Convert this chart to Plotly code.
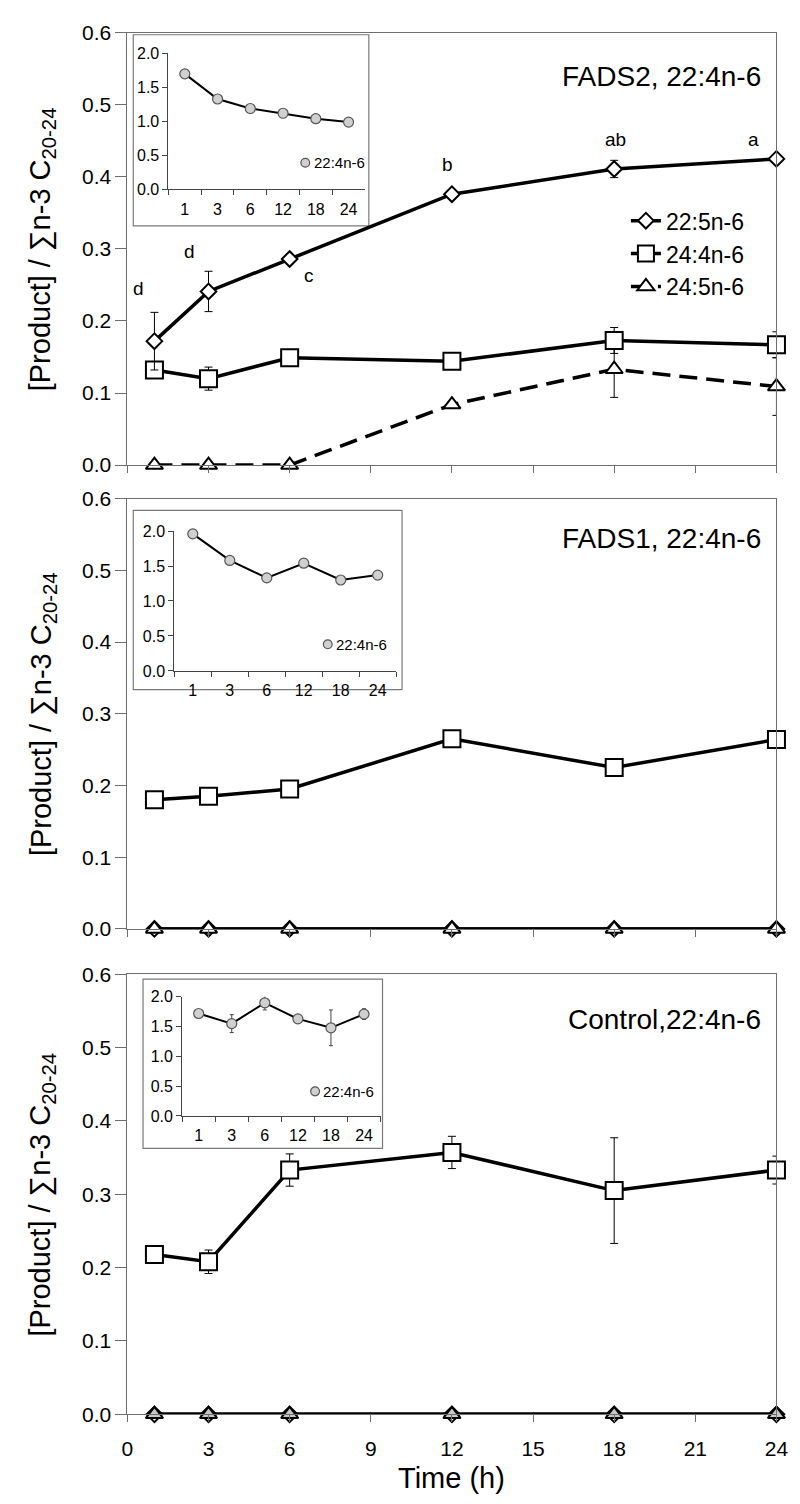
import plotly.graph_objects as go

# ---------------- data ----------------
hours = [1, 3, 6, 12, 18, 24]
inset_cats = ["1", "3", "6", "12", "18", "24"]

# FADS2 panel
fads2_225 = [0.172, 0.241, 0.286, 0.376, 0.411, 0.425]
fads2_225_err = [0.040, 0.028, 0.004, 0.004, 0.012, 0.004]
fads2_244 = [0.132, 0.120, 0.149, 0.144, 0.173, 0.167]
fads2_244_err = [0.004, 0.016, 0.004, 0.004, 0.018, 0.018]
fads2_245 = [0.0, 0.0, 0.0, 0.084, 0.133, 0.109]
fads2_245_err = [0.0, 0.0, 0.0, 0.004, 0.039, 0.040]
fads2_letters = ["d", "d", "c", "b", "ab", "a"]
letter_x = [0.4, 2.3, 6.7, 11.85, 18.05, 23.15]
letter_y = [0.245, 0.297, 0.263, 0.417, 0.452, 0.452]

# FADS1 panel
fads1_225 = [0.0, 0.0, 0.0, 0.0, 0.0, 0.0]
fads1_244 = [0.180, 0.185, 0.195, 0.265, 0.225, 0.264]
fads1_244_err = [0.004, 0.004, 0.004, 0.004, 0.004, 0.004]
fads1_245 = [0.0, 0.0, 0.0, 0.0, 0.0, 0.0]

# Control panel
ctrl_225 = [0.0, 0.0, 0.0, 0.0, 0.0, 0.0]
ctrl_244 = [0.218, 0.208, 0.333, 0.357, 0.305, 0.333]
ctrl_244_err = [0.004, 0.016, 0.022, 0.022, 0.072, 0.019]
ctrl_245 = [0.0, 0.0, 0.0, 0.0, 0.0, 0.0]

# insets: substrate 22:4n-6
inset_fads2 = [1.70, 1.33, 1.19, 1.12, 1.04, 0.99]
inset_fads2_err = [0.01, 0.02, 0.01, 0.01, 0.01, 0.01]
inset_fads1 = [1.96, 1.58, 1.33, 1.54, 1.30, 1.37]
inset_fads1_err = [0.01, 0.01, 0.06, 0.01, 0.01, 0.01]
inset_ctrl = [1.72, 1.55, 1.90, 1.63, 1.48, 1.71]
inset_ctrl_err = [0.03, 0.15, 0.12, 0.03, 0.30, 0.09]

panel_titles = ["FADS2, 22:4n-6", "FADS1, 22:4n-6", "Control,22:4n-6"]
x_ticks = [0, 3, 6, 9, 12, 15, 18, 21, 24]

# ---------------- layout helpers ----------------
W, H = 800, 1504
FONT = "Liberation Sans Narrow, Arial Narrow, Liberation Sans, Arial, sans-serif"
ARIAL = "Liberation Sans, Arial, sans-serif"


def xd(px):
    return px / W


def yd(py):
    return 1 - py / H


main_x = [xd(116), xd(780)]
panel_px = [(13, 452), (486, 923), (969, 1416)]          # (y of 0.6, y of 0.0)
inset_px = [  # (x0, x1, y_of_2.0, y_of_0.0)
    (158, 359, 34, 172),
    (164, 391, 519, 661),
    (172, 375, 992, 1113),
]
box_px = [(122, 15, 363, 209), (122, 498, 397, 680), (132, 974, 377, 1146)]
dot_px = [(298, 145), (321, 634), (308, 1088)]      # inset legend dot centres

fig = go.Figure()

LW = 3.5
diamond = dict(symbol="diamond", size=12, color="white", line=dict(color="black", width=2))
square = dict(symbol="square", size=17, color="white", line=dict(color="black", width=2))
tri_white = dict(symbol="triangle-up", size=15, color="white", line=dict(color="black", width=2))
tri_gray = dict(symbol="triangle-up", size=15, color="#c8c8c8", line=dict(color="black", width=2))


def eb(arr):
    return dict(type="data", array=arr, color="black", thickness=1, width=4)


# panel 1 (FADS2)
fig.add_trace(go.Scatter(x=hours, y=fads2_245, error_y=eb(fads2_245_err), mode="lines+markers",
                         name="24:5n-6", line=dict(color="black", width=LW, dash="18px,9px"),
                         marker=tri_white, xaxis="x", yaxis="y", cliponaxis=False, legendrank=3))
fig.add_trace(go.Scatter(x=hours, y=fads2_244, error_y=eb(fads2_244_err), mode="lines+markers",
                         name="24:4n-6", line=dict(color="black", width=LW),
                         marker=square, xaxis="x", yaxis="y", cliponaxis=False, legendrank=2))
fig.add_trace(go.Scatter(x=hours, y=fads2_225, error_y=eb(fads2_225_err), mode="lines+markers",
                         name="22:5n-6", line=dict(color="black", width=LW),
                         marker=diamond, xaxis="x", yaxis="y", cliponaxis=False, legendrank=1))

# panel 2 (FADS1)
fig.add_trace(go.Scatter(x=hours, y=fads1_244, error_y=eb(fads1_244_err), mode="lines+markers",
                         line=dict(color="black", width=LW), marker=square, showlegend=False,
                         xaxis="x2", yaxis="y2", cliponaxis=False))
fig.add_trace(go.Scatter(x=hours, y=fads1_225, mode="lines+markers",
                         line=dict(color="black", width=LW), marker=diamond, showlegend=False,
                         xaxis="x2", yaxis="y2", cliponaxis=False))
fig.add_trace(go.Scatter(x=hours, y=fads1_245, mode="lines+markers",
                         line=dict(color="black", width=LW), marker=tri_white, showlegend=False,
                         xaxis="x2", yaxis="y2", cliponaxis=False))

# panel 3 (Control)
fig.add_trace(go.Scatter(x=hours, y=ctrl_244, error_y=eb(ctrl_244_err), mode="lines+markers",
                         line=dict(color="black", width=LW), marker=square, showlegend=False,
                         xaxis="x3", yaxis="y3", cliponaxis=False))
fig.add_trace(go.Scatter(x=hours, y=ctrl_225, mode="lines+markers",
                         line=dict(color="black", width=LW), marker=diamond, showlegend=False,
                         xaxis="x3", yaxis="y3", cliponaxis=False))
fig.add_trace(go.Scatter(x=hours, y=ctrl_245, mode="lines+markers",
                         line=dict(color="black", width=LW), marker=tri_gray, showlegend=False,
                         xaxis="x3", yaxis="y3", cliponaxis=False))

# insets
inset_data = [(inset_fads2, inset_fads2_err), (inset_fads1, inset_fads1_err), (inset_ctrl, inset_ctrl_err)]
for i, (vals, errs) in enumerate(inset_data):
    ax = str(i + 4)
    fig.add_trace(go.Scatter(x=inset_cats, y=vals,
                             error_y=dict(type="data", array=errs, color="#444", thickness=1, width=2),
                             mode="lines+markers", line=dict(color="black", width=2),
                             marker=dict(symbol="circle", size=10, color="#d0d0d0",
                                         line=dict(color="#555", width=1.2)),
                             showlegend=False, xaxis="x" + ax, yaxis="y" + ax, cliponaxis=False))

layout = dict(
    width=W, height=H,
    margin=dict(l=0, r=0, t=0, b=0),
    paper_bgcolor="white", plot_bgcolor="rgba(0,0,0,0)",
    font=dict(family=FONT, color="black"),
    showlegend=True,
    legend=dict(x=xd(626), y=yd(182), xanchor="left", yanchor="top",
                font=dict(family=FONT, size=23, color="black"),
                bgcolor="rgba(0,0,0,0)", itemwidth=30, tracegroupgap=0),
)

axis_line = "#6e6e6e"
for i, (ytop, ybot) in enumerate(panel_px):
    sfx = "" if i == 0 else str(i + 1)
    bottom = i == 2
    layout["xaxis" + sfx] = dict(
        domain=main_x, range=[0, 24], tickvals=x_ticks, showticklabels=bottom,
        ticks="outside", ticklen=7, tickcolor=axis_line, showline=True, mirror=True,
        linecolor=axis_line, linewidth=1, showgrid=False, zeroline=False,
        anchor="y" + sfx, tickfont=dict(family=FONT, size=21), ticklabelstandoff=8,
    )
    layout["yaxis" + sfx] = dict(
        domain=[yd(ybot), yd(ytop)], range=[0, 0.6], dtick=0.1, tickformat=".1f",
        ticks="outside", ticklen=11, tickcolor=axis_line, showline=True, mirror=True,
        linecolor=axis_line, linewidth=1, showgrid=False, zeroline=False,
        anchor="x" + sfx, tickfont=dict(family=FONT, size=21),
    )

for i, (x0, x1, y2, y0) in enumerate(inset_px):
    ax = str(i + 4)
    layout["xaxis" + ax] = dict(
        domain=[xd(x0), xd(x1)], type="category", range=[-0.5, 5.5], tickson="boundaries",
        ticks="outside", ticklen=5, tickcolor="#444", showline=True, linecolor="#444",
        linewidth=1, showgrid=False, zeroline=False, anchor="y" + ax,
        tickfont=dict(family=FONT, size=16), ticklabelstandoff=5,
    )
    layout["yaxis" + ax] = dict(
        domain=[yd(y0), yd(y2)], range=[0, 2.0], dtick=0.5, tickformat=".1f",
        ticks="outside", ticklen=5, tickcolor="#444", showline=True, linecolor="#444",
        linewidth=1, showgrid=False, zeroline=False, anchor="x" + ax,
        tickfont=dict(family=FONT, size=16),
    )

fig.update_layout(**layout)

shapes = []
for (bx0, by0, bx1, by1) in box_px:
    shapes.append(dict(type="rect", xref="paper", yref="paper", x0=xd(bx0), x1=xd(bx1),
                       y0=yd(by1), y1=yd(by0), line=dict(color="#7a7a7a", width=1.2),
                       fillcolor="white", layer="below"))
# inset legend symbols (grey circle)
R = 4.5
for (dx, dy) in dot_px:
    shapes.append(dict(type="circle", xref="paper", yref="paper",
                       x0=xd(dx - R), x1=xd(dx + R), y0=yd(dy + R), y1=yd(dy - R),
                       line=dict(color="#555", width=1.2), fillcolor="#d0d0d0", layer="above"))
fig.update_layout(shapes=shapes)

annotations = []
# significance letters on the FADS2 panel
for lx, ly, lt in zip(letter_x, letter_y, fads2_letters):
    annotations.append(dict(text=lt, xref="x", yref="y", x=lx, y=ly, showarrow=False,
                            xanchor="center", yanchor="middle",
                            font=dict(family=ARIAL, size=19, color="black")))
ytitle = "[Product] / \u2211n-3 C<sub>20-24</sub>"
for i, (ytop, ybot) in enumerate(panel_px):
    annotations.append(dict(text=ytitle, xref="paper", yref="paper", x=xd(29), y=yd((ytop + ybot) / 2),
                            textangle=-90, showarrow=False, xanchor="center", yanchor="middle",
                            font=dict(family=FONT, size=29, color="black")))
annotations.append(dict(text="Time (h)", xref="paper", yref="paper", x=(main_x[0] + main_x[1]) / 2,
                        y=yd(1481), showarrow=False, xanchor="center", yanchor="middle",
                        font=dict(family=FONT, size=29, color="black")))
title_y = [57, 527, 1015]
for i, t in enumerate(panel_titles):
    annotations.append(dict(text=t, xref="paper", yref="paper", x=xd(766), y=yd(title_y[i]),
                            showarrow=False, xanchor="right", yanchor="middle",
                            font=dict(family=FONT, size=28, color="black")))
for (dx, dy) in dot_px:
    annotations.append(dict(text="22:4n-6", xref="paper", yref="paper", x=xd(dx + R + 2), y=yd(dy),
                            showarrow=False, xanchor="left", yanchor="middle",
                            font=dict(family=FONT, size=15, color="black")))
fig.update_layout(annotations=annotations)

fig.write_html("out.html")
